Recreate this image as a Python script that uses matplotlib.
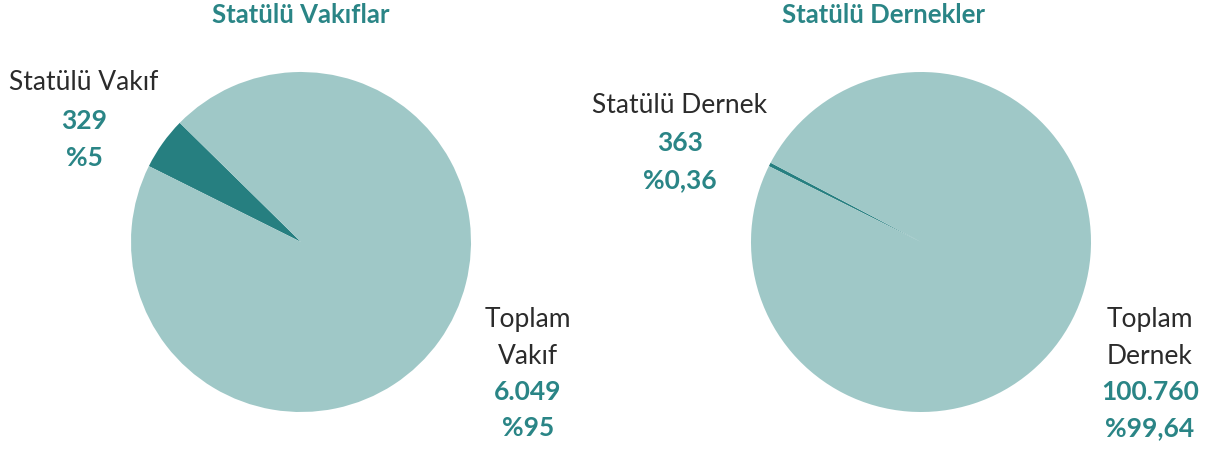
import matplotlib

matplotlib.use("Agg")
import matplotlib.pyplot as plt

plt.rcParams["font.family"] = ["Lato", "DejaVu Sans"]

# Veriler
titles = ["Statülü Vakıflar", "Statülü Dernekler"]
small_labels = ["Statülü Vakıf", "Statülü Dernek"]
small_counts = ["329", "363"]
small_pcts = [5, 0.36]
small_pct_text = ["%5", "%0,36"]
total_labels = [["Toplam", "Vakıf"], ["Toplam", "Dernek"]]
total_counts = ["6.049", "100.760"]
rest_pcts = [95, 99.64]
rest_pct_text = ["%95", "%99,64"]

W, H = 1214, 449
DARK = "#267f80"
LIGHT = "#9fc8c7"
TEAL_TXT = "#2a8586"
BLACK_TXT = "#2b2b2b"

fig = plt.figure(figsize=(W / 100, H / 100), dpi=100)


def ftext(x, y, s, **kw):
    fig.text(x / W, 1 - y / H, s, ha="center", va="center", **kw)


centers = [(301, 242), (921, 242)]
radius = 170
title_x = [301, 883]
small_xy = [(84, 83), (680, 105)]
total_x = [528, 1150]

for i in range(2):
    cx, cy = centers[i]
    ax = fig.add_axes([(cx - radius) / W, (H - cy - radius) / H,
                       2 * radius / W, 2 * radius / H])
    ax.pie([small_pcts[i], rest_pcts[i]], colors=[DARK, LIGHT],
           startangle=153.5, counterclock=False,
           wedgeprops={"linewidth": 0})
    ax.set_xlim(-1, 1)
    ax.set_ylim(-1, 1)
    ax.set_aspect("equal")
    ax.axis("off")

    ftext(title_x[i], 15, titles[i], fontsize=18.5, fontweight="bold", color=TEAL_TXT)

    sx, sy = small_xy[i]
    ftext(sx, sy, small_labels[i], fontsize=19, color=BLACK_TXT)
    ftext(sx, sy + 38, small_counts[i], fontsize=19, fontweight="bold", color=TEAL_TXT)
    ftext(sx, sy + 75, small_pct_text[i], fontsize=19, fontweight="bold", color=TEAL_TXT)

    tx = total_x[i]
    ftext(tx, 320, total_labels[i][0], fontsize=19, color=BLACK_TXT)
    ftext(tx, 356, total_labels[i][1], fontsize=19, color=BLACK_TXT)
    ftext(tx, 392, total_counts[i], fontsize=19, fontweight="bold", color=TEAL_TXT)
    ftext(tx, 428, rest_pct_text[i], fontsize=19, fontweight="bold", color=TEAL_TXT)

plt.savefig("out.png", dpi=100)
plt.close()
